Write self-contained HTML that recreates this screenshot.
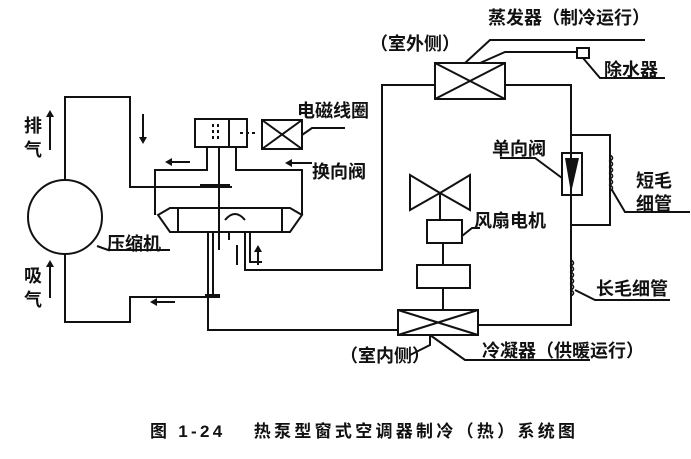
<!DOCTYPE html>
<html><head><meta charset="utf-8"><style>
body{margin:0;background:#fff}
svg{display:block}
text{font-family:"Liberation Sans","Noto Sans CJK SC",sans-serif;font-weight:bold;fill:#111}
</style></head><body>
<svg width="691" height="459" viewBox="0 0 691 459" xmlns="http://www.w3.org/2000/svg">
<g stroke="#111" stroke-width="2" fill="none">
<circle cx="65" cy="217" r="37"/>
<polyline points="65,180 65,97 130,97 130,187 232,187"/>
<polyline points="65,254 65,322 130,322 130,297 215,297"/>
<rect x="195" y="119" width="52" height="28"/>
<line x1="229" y1="119" x2="229" y2="147"/>
<line x1="213" y1="124" x2="213" y2="142" stroke-dasharray="3,3"/>
<line x1="218" y1="124" x2="218" y2="142" stroke-dasharray="3,3"/>
<line x1="240" y1="133" x2="256" y2="133" stroke-dasharray="3,3"/>
<rect x="262" y="120" width="40" height="29"/>
<line x1="262" y1="120" x2="302" y2="149"/><line x1="302" y1="120" x2="262" y2="149"/>
<polyline points="302,135 312,128 345,128"/>
<polyline points="207,147 207,170 155,170 155,215"/>
<polyline points="236,147 236,170 302,170 302,215"/>
<line x1="219" y1="147" x2="219" y2="250"/>
<polygon points="158,215 170,208 290,208 302,215 290,232 170,232"/>
<line x1="178" y1="208" x2="178" y2="232"/>
<line x1="282" y1="208" x2="282" y2="232"/>
<polyline points="208,232 208,330 240,330 398,330"/>
<polyline points="213,232 213,297"/>
<polyline points="229,232 229,240"/>
<polyline points="245,232 245,270 382,270 382,85 435,85"/>
<polyline points="250,232 250,262 262,262"/>
<path d="M225,220 q10,-12 20,0"/>
<rect x="435" y="63" width="70" height="36"/>
<line x1="435" y1="63" x2="505" y2="99"/><line x1="505" y1="63" x2="435" y2="99"/>
<polyline points="505,85 571,85 571,325 478,325"/>
<polyline points="465,63 490,40 645,40"/>
<polyline points="480,63 505,52 577,52"/>
<rect x="577" y="48" width="12" height="10"/>
<polyline points="583,58 600,78 665,78"/>
<rect x="562" y="153" width="20" height="42"/>
<polyline points="571,135 610,135 610,225 571,225"/>
<path d="M610,155 q5,3 0,6 q5,3 0,6 q5,3 0,6 q5,3 0,6 q5,3 0,6 q5,3 0,6" stroke-width="1.6"/>
<path d="M571,260 q5,3 0,6 q5,3 0,6 q5,3 0,6 q5,3 0,6 q5,3 0,6 q5,3 0,6" stroke-width="1.6"/>
<polyline points="500,158 535,158 562,178"/>
<polyline points="612,190 625,212 690,212"/>
<polyline points="575,290 595,300 670,300"/>
<polygon points="410,175 440,193 410,210"/>
<polygon points="470,175 440,193 470,210"/>
<line x1="440" y1="193" x2="440" y2="220"/>
<rect x="427" y="220" width="35" height="23"/>
<polyline points="462,236 472,228 480,228"/>
<line x1="443" y1="243" x2="443" y2="265"/>
<rect x="417" y="265" width="53" height="23"/>
<line x1="443" y1="288" x2="443" y2="310"/>
<rect x="398" y="310" width="80" height="25"/>
<line x1="398" y1="310" x2="478" y2="335"/><line x1="478" y1="310" x2="398" y2="335"/>
<polyline points="430,335 465,360 590,360"/>
<polyline points="430,335 430,345 410,355"/>
<polyline points="97,246 108,250 170,250"/>
<line x1="50" y1="115" x2="50" y2="150"/><line x1="50" y1="265" x2="50" y2="298"/>
<line x1="143" y1="114" x2="143" y2="140"/>
<line x1="170" y1="162" x2="190" y2="162"/>
<line x1="290" y1="163" x2="312" y2="163"/>
<line x1="155" y1="302" x2="175" y2="302"/>
<line x1="258" y1="250" x2="258" y2="265"/>
<line x1="237" y1="245" x2="237" y2="265"/>
</g>
<g fill="#111">
<polygon points="46,117 54,117 50,110"/><polygon points="46,267 54,267 50,260"/>
<polygon points="139,137 147,137 143,144"/>
<polygon points="172,158 172,166 165,162"/>
<polygon points="292,159 292,167 285,163"/>
<polygon points="157,298 157,306 150,302"/>
<polygon points="254,252 262,252 258,245"/>
<polygon points="565,158 579,158 571,193"/>
<rect x="200" y="184" width="30" height="4"/>
<rect x="205" y="294" width="15" height="4"/>
</g>
<g font-size="18">
<text x="488" y="24">蒸发器（制冷运行）</text>
<text x="370" y="50">（室外侧）</text>
<text x="604" y="76">除水器</text>
<text x="297" y="117">电磁线圈</text>
<text x="312" y="178">换向阀</text>
<text x="492" y="155">单向阀</text>
<text x="636" y="187">短毛</text>
<text x="636" y="210">细管</text>
<text x="474" y="227">风扇电机</text>
<text x="596" y="295">长毛细管</text>
<text x="107" y="250">压缩机</text>
<text x="482" y="357">冷凝器（供暖运行）</text>
<text x="340" y="362">（室内侧）</text>
<text x="24" y="132">排</text><text x="24" y="156">气</text>
<text x="24" y="282">吸</text><text x="24" y="306">气</text>
</g>
<text x="150" y="437" font-size="17" textLength="425" lengthAdjust="spacing">图 1-24　 热泵型窗式空调器制冷（热）系统图</text>
</svg>
</body></html>
